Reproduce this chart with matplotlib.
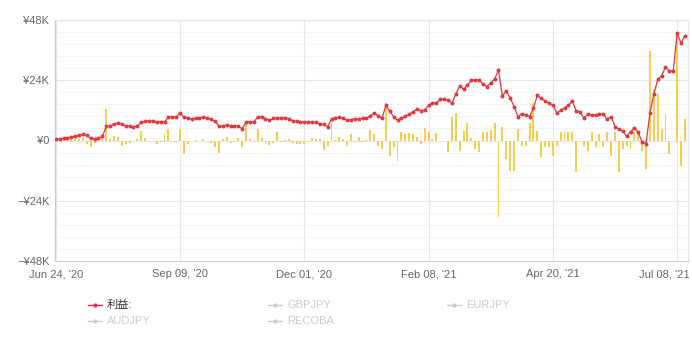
import matplotlib
matplotlib.use("Agg")
import matplotlib.pyplot as plt
import matplotlib.transforms as mtransforms
from matplotlib.lines import Line2D
from matplotlib.ticker import MultipleLocator
import numpy as np

plt.rcParams["font.family"] = ["Liberation Sans", "Noto Sans CJK JP", "DejaVu Sans"]

# 累積利益 (千円)
profit = [
    0.5, 0.6, 0.8, 1.0, 1.4, 1.7, 2.0, 2.4, 2.0, 0.9,
    0.6, 0.9, 1.6, 5.6, 5.8, 6.6, 7.0, 6.4, 5.9, 5.6,
    5.5, 5.7, 7.3, 7.6, 7.8, 7.7, 7.5, 7.4, 7.3, 9.5,
    9.4, 9.2, 11.0, 9.2, 8.8, 8.7, 8.8, 9.0, 9.2, 9.1,
    8.4, 7.6, 5.9, 5.6, 6.2, 5.8, 5.6, 5.7, 4.7, 7.3,
    7.4, 7.4, 9.3, 9.5, 8.7, 8.1, 8.8, 9.0, 9.0, 9.1,
    8.6, 7.9, 7.6, 7.5, 7.4, 7.3, 7.4, 7.2, 6.4, 6.4,
    5.4, 8.7, 8.9, 9.2, 8.9, 8.0, 8.3, 8.7, 8.5, 8.8,
    8.8, 9.8, 11.0, 9.8, 8.8, 14.0, 11.7, 9.5, 8.1, 8.8,
    9.7, 10.4, 11.5, 12.4, 11.9, 12.2, 14.0, 14.8, 15.0, 16.4,
    16.4, 16.2, 14.8, 18.5, 21.7, 20.4, 22.0, 24.0, 24.0, 24.2,
    22.5, 21.5, 23.0, 24.5, 28.0, 17.7, 19.7, 17.0, 13.5, 9.5,
    10.7, 10.2, 9.5, 13.0, 18.0, 16.8, 15.7, 14.8, 14.0, 11.0,
    12.0, 13.0, 14.0, 15.7, 11.7, 11.3, 9.0, 10.4, 10.2, 10.0,
    10.4, 10.4, 8.4, 9.5, 5.5, 4.5, 3.7, 1.7, 3.5, 5.0,
    3.2, -0.7, -1.2, 11.0, 18.4, 24.4, 25.7, 29.3, 27.7, 27.7,
    42.7, 38.8, 41.7,
]

# 日次損益 (千円)
daily = [
    0.5, 0.4, 0.6, 0.5, 0.8, 0.6, 0.7, 0.8, -1.2, -2.5,
    -0.8, 0.5, 0.8, 12.4, 0.5, 1.8, 1.2, -2.0, -1.2, -1.0,
    0.0, 0.5, 3.8, 1.0, 0.0, 0.0, -1.2, -0.6, 2.4, 4.4,
    -0.6, -0.4, 4.7, -5.2, -1.5, 0.0, 0.3, 0.0, 0.5, 0.0,
    -0.8, -2.7, -4.9, 0.5, 1.2, -1.0, -0.4, 1.0, -2.7, 7.0,
    0.5, -0.4, 4.7, 1.0, -1.2, -1.8, -0.8, 3.3, -0.4, 0.3,
    0.5, -0.8, -1.5, -1.5, -1.2, -0.6, 0.8, 0.5, 0.6, -3.9,
    -2.0, 9.0, 0.3, 1.5, 0.5, -2.0, 2.6, -0.5, 1.2, -0.4,
    0.3, 4.0, 2.4, -2.0, -3.3, 15.0, -6.0, -2.7, -8.0, 3.3,
    2.4, 2.8, 2.6, 1.5, -1.2, 5.0, 3.3, 0.6, 2.9, 0.0,
    0.0, -4.7, 9.5, 10.8, -4.1, 3.7, 6.8, 1.0, -3.3, -4.5,
    3.3, 3.3, 4.0, 6.8, -30.5, 5.5, -7.3, -12.3, -12.3, 4.4,
    -2.0, -2.0, 6.8, 15.0, 3.7, -6.5, -2.4, -2.4, -6.0, -2.0,
    3.3, 3.3, 3.3, 3.3, -12.4, 0.0, -2.0, -4.0, 3.3, -2.7,
    2.4, -2.4, 3.3, -6.0, 3.3, -12.5, -3.3, -2.0, -3.3, 3.3,
    3.5, -4.0, -11.3, 35.7, 20.4, 18.4, 4.4, 10.4, -5.2, 0.0,
    42.4, -10.0, 8.4,
]

tick_idx = [0, 32, 64, 96, 128, 160]
tick_labels = ["Jun 24, '20", "Sep 09, '20", "Dec 01, '20", "Feb 08, '21", "Apr 20, '21", "Jul 08, '21"]
y_ticks = [-48, -24, 0, 24, 48]
y_labels = ["−¥48K", "−¥24K", "¥0", "¥24K", "¥48K"]

legend_names = ["利益:", "GBPJPY", "EURJPY", "AUDJPY", "RECOBA"]

red = "#e2373e"
gold = "#f7cc4f"
grid_major = "#e6e6e6"
grid_minor = "#f4f4f4"
txt = "#666666"
faded = "#cccccc"

fig = plt.figure(figsize=(6.92, 3.47), dpi=100)
ax = fig.add_axes([55 / 692, 1 - 261 / 347, (688 - 55) / 692, (261 - 20) / 347])

x = np.arange(len(profit))
ax.bar(x, daily, width=0.5, color=gold, zorder=2)
ax.plot(x, profit, color=red, lw=0.9, marker="o", markersize=1.8, zorder=3)

ax.set_xlim(-0.2, 162.8)
ax.set_ylim(-48, 48)
ax.set_yticks(y_ticks)
ax.set_yticklabels(y_labels)
ax.yaxis.set_minor_locator(MultipleLocator(4.8))
ax.set_xticks(tick_idx)
ax.set_xticklabels(tick_labels)

ax.grid(True, which="major", color=grid_major, lw=0.8, zorder=0)
ax.grid(True, which="minor", axis="y", color=grid_minor, lw=0.6, zorder=0)
ax.tick_params(which="both", length=0, colors=txt, labelsize=8)
ax.tick_params(axis="x", pad=6)
ax.tick_params(axis="y", pad=4)
for s in ax.spines.values():
    s.set_color(grid_major)
    s.set_linewidth(0.8)
ax.spines["left"].set_color("#cccccc")
ax.spines["bottom"].set_color("#cccccc")

# 最後のラベルは右端に収める
last = ax.get_xticklabels()[-1]
last.set_horizontalalignment("right")
last.set_transform(last.get_transform() + mtransforms.ScaledTranslation(12 / 100, 0, fig.dpi_scale_trans))

# 凡例 (手動配置)
leg_pos = [(88, 305), (268, 305), (447, 305), (88, 321), (268, 321)]
for i, (name, (px, py)) in enumerate(zip(legend_names, leg_pos)):
    c = red if i == 0 else faded
    fx0, fx1 = px / 692, (px + 14) / 692
    fy = 1 - py / 347
    fig.add_artist(Line2D([fx0, (fx0 + fx1) / 2, fx1], [fy, fy, fy], transform=fig.transFigure,
                          color=c, lw=1.0, marker="o", markersize=2.0, markevery=[1]))
    fig.text((px + 19) / 692, fy, name, color="#333333" if i == 0 else faded,
             fontsize=8, va="center", ha="left")

fig.savefig("out.png", dpi=100)
